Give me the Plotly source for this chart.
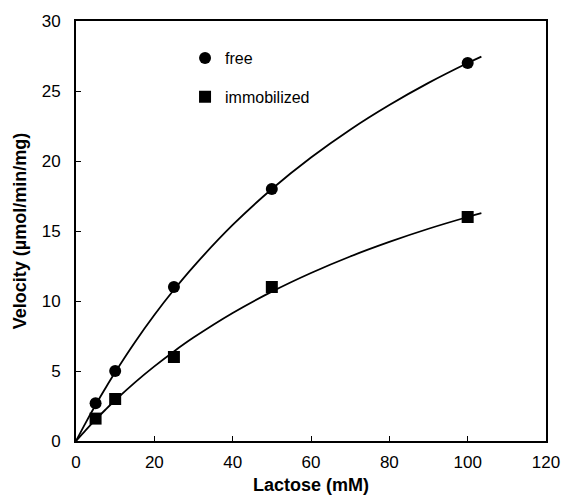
import plotly.graph_objects as go

# Measured data
lactose = [5, 10, 25, 50, 100]
v_free = [2.7, 5.0, 11.0, 18.0, 27.0]
v_immob = [1.6, 3.0, 6.0, 11.0, 16.0]

# Fitted curves
curve_x = [0, 2.5, 5, 7.5, 10, 15, 20, 25, 30, 40, 50, 60, 70, 80, 90, 100, 103.5]
curve_free = [0, 1.317, 2.571, 3.767, 4.909, 7.043, 9.0, 10.8, 12.46, 15.43, 18.0,
              20.25, 22.24, 24.0, 25.58, 27.0, 27.46]
curve_immob = [0, 0.780, 1.524, 2.233, 2.909, 4.174, 5.333, 6.4, 7.385, 9.143, 10.667,
               12.0, 13.18, 14.22, 15.16, 16.0, 16.27]

x_ticks = [0, 20, 40, 60, 80, 100, 120]
y_ticks = [0, 5, 10, 15, 20, 25, 30]

FONT = "Liberation Sans, Arial, sans-serif"

fig = go.Figure()
fig.add_trace(go.Scatter(x=curve_x, y=curve_free, mode="lines", line=dict(color="black", width=1.8, shape="spline"),
                         showlegend=False, hoverinfo="skip"))
fig.add_trace(go.Scatter(x=curve_x, y=curve_immob, mode="lines", line=dict(color="black", width=1.8, shape="spline"),
                         showlegend=False, hoverinfo="skip"))
fig.add_trace(go.Scatter(x=lactose, y=v_free, mode="markers", name="free", legendgroup="a",
                         marker=dict(symbol="circle", size=12, color="black")))
fig.add_trace(go.Scatter(x=lactose, y=v_immob, mode="markers", name="immobilized", legendgroup="b",
                         marker=dict(symbol="square", size=12, color="black")))

fig.update_layout(
    width=562, height=491,
    margin=dict(l=68, r=24, t=13, b=58),
    paper_bgcolor="white", plot_bgcolor="white",
    font=dict(family=FONT, size=17, color="black"),
    legend=dict(x=0.232, y=0.952, xanchor="left", yanchor="top", bgcolor="rgba(0,0,0,0)",
                font=dict(size=16), tracegroupgap=15, traceorder="grouped"),
    xaxis=dict(range=[0, 120], tickvals=x_ticks, ticks="inside", ticklen=5, tickcolor="black",
               showline=True, linecolor="black", linewidth=2, mirror=True, showgrid=False, zeroline=False,
               automargin=False, ticklabelstandoff=5,
               title=dict(text="<b>Lactose (mM)</b>", font=dict(size=18), standoff=7),
               tickfont=dict(size=17)),
    yaxis=dict(range=[0, 30], tickvals=y_ticks, ticks="inside", ticklen=5, tickcolor="black",
               showline=True, linecolor="black", linewidth=2, mirror=True, showgrid=False, zeroline=False,
               automargin=False, ticklabelstandoff=10,
               title=dict(text="<b>Velocity (µmol/min/mg)</b>", font=dict(size=18), standoff=10),
               tickfont=dict(size=17)),
)

fig.write_html("out.html")
